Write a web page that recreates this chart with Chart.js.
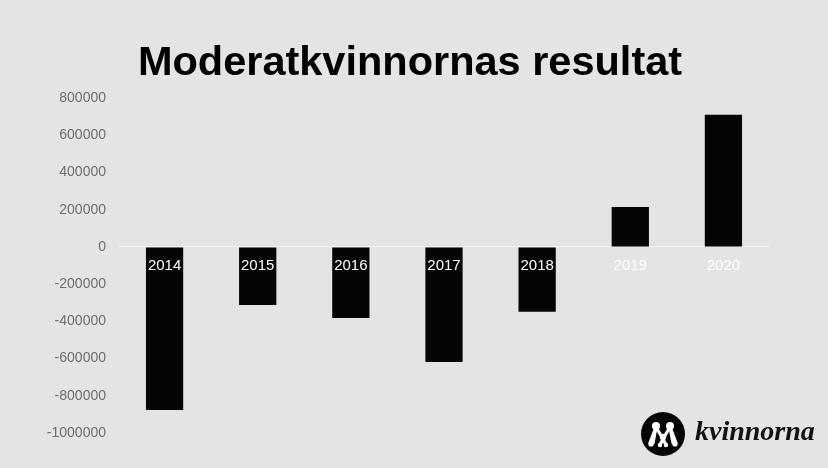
<!DOCTYPE html>
<html>
<head>
<meta charset="utf-8">
<script src="https://cdn.jsdelivr.net/npm/chart.js@4/dist/chart.umd.min.js"></script>
<style>
  html, body { margin: 0; padding: 0; background: #e4e4e4; }
  #wrap { width: 828px; height: 468px; }
</style>
</head>
<body>
<div id="wrap"><canvas id="c" width="828" height="468"></canvas></div>
<script>
const years = ['2014', '2015', '2016', '2017', '2018', '2019', '2020'];
const results = [-876000, -312000, -382000, -618000, -349000, 215000, 710000];
const yMin = -1000000;
const yMax = 800000;
const yStep = 200000;
const titleText = 'Moderatkvinnornas resultat';
const logoText = 'kvinnorna';

const bgPlugin = {
  id: 'bg',
  beforeDraw(chart) {
    const ctx = chart.ctx;
    ctx.save();
    ctx.fillStyle = '#e4e4e4';
    ctx.fillRect(0, 0, chart.width, chart.height);
    ctx.restore();
  }
};

const labelPlugin = {
  id: 'yearLabels',
  afterDatasetsDraw(chart) {
    const ctx = chart.ctx;
    const xs = chart.scales.x, ys = chart.scales.y;
    const y0 = ys.getPixelForValue(0);
    ctx.save();
    ctx.font = '15px "Liberation Sans", Arial, sans-serif';
    ctx.fillStyle = '#ffffff';
    ctx.textAlign = 'center';
    ctx.textBaseline = 'middle';
    years.forEach((yr, i) => {
      ctx.fillText(yr, xs.getPixelForValue(i), y0 + 19);
    });
    ctx.restore();
  }
};

const logoPlugin = {
  id: 'logo',
  afterDraw(chart) {
    const ctx = chart.ctx;
    const cx = 663, cy = 434, r = 22;
    ctx.save();
    ctx.fillStyle = '#050505';
    ctx.beginPath();
    ctx.arc(cx, cy, r, 0, Math.PI * 2);
    ctx.fill();
    ctx.strokeStyle = '#ffffff';
    ctx.fillStyle = '#ffffff';
    ctx.lineWidth = 3.2;
    ctx.lineJoin = 'round';
    ctx.lineCap = 'round';
    const pts = [[cx - 10, cy + 9], [cx - 7, cy - 7], [cx, cy + 5], [cx + 7, cy - 7], [cx + 10, cy + 9]];
    ctx.beginPath();
    ctx.moveTo(pts[0][0], pts[0][1]);
    for (let i = 1; i < pts.length; i++) ctx.lineTo(pts[i][0], pts[i][1]);
    ctx.stroke();
    ctx.beginPath();
    ctx.moveTo(cx - 7, cy - 7); ctx.lineTo(cx - 13, cy + 9);
    ctx.moveTo(cx + 7, cy - 7); ctx.lineTo(cx + 13, cy + 9);
    ctx.moveTo(cx, cy + 5); ctx.lineTo(cx - 3, cy + 11);
    ctx.moveTo(cx, cy + 5); ctx.lineTo(cx + 3, cy + 11);
    ctx.stroke();
    [[cx - 7, cy - 8, 4], [cx + 7, cy - 8, 4], [cx, cy + 3, 3.2], [cx - 12, cy + 10, 2.6], [cx + 12, cy + 10, 2.6], [cx - 3, cy + 11, 2.2], [cx + 3, cy + 11, 2.2]].forEach(p => {
      ctx.beginPath();
      ctx.arc(p[0], p[1], p[2], 0, Math.PI * 2);
      ctx.fill();
    });
    ctx.fillStyle = '#111111';
    ctx.font = 'italic bold 28px "Liberation Serif", "DejaVu Serif", serif';
    ctx.textAlign = 'left';
    ctx.textBaseline = 'alphabetic';
    ctx.fillText(logoText, 695, 440);
    ctx.restore();
  }
};

new Chart(document.getElementById('c'), {
  type: 'bar',
  data: {
    labels: years,
    datasets: [{
      data: results,
      backgroundColor: '#050505',
      borderWidth: 0,
      barPercentage: 0.4,
      categoryPercentage: 1.0
    }]
  },
  options: {
    responsive: false,
    animation: false,
    devicePixelRatio: 1,
    layout: { padding: { top: 0, right: 8, bottom: 35, left: 0 } },
    plugins: {
      legend: { display: false },
      tooltip: { enabled: false },
      title: {
        display: true,
        text: titleText,
        color: '#000000',
        font: { family: '"Liberation Sans", Arial, sans-serif', size: 41.5, weight: 'bold', lineHeight: 1.2 },
        padding: { top: 39, bottom: 9.2 }
      }
    },
    scales: {
      x: { display: false },
      y: {
        min: yMin,
        max: yMax,
        afterFit(scale) { scale.width = 118; },
        ticks: {
          stepSize: yStep,
          color: '#6e6e6e',
          padding: 12,
          font: { family: '"Liberation Sans", Arial, sans-serif', size: 14 },
          callback: (v) => String(v)
        },
        border: { display: false },
        grid: {
          drawTicks: false,
          lineWidth: 1,
          color: (c) => (c.tick && c.tick.value === 0) ? '#f3f3f3' : 'rgba(0,0,0,0)'
        }
      },
      yRight: {
        position: 'right',
        min: yMin,
        max: yMax,
        afterFit(scale) { scale.width = 50; },
        ticks: { display: false },
        border: { display: false },
        grid: { display: false, drawTicks: false }
      }
    }
  },
  plugins: [bgPlugin, labelPlugin, logoPlugin]
});
</script>
</body>
</html>
